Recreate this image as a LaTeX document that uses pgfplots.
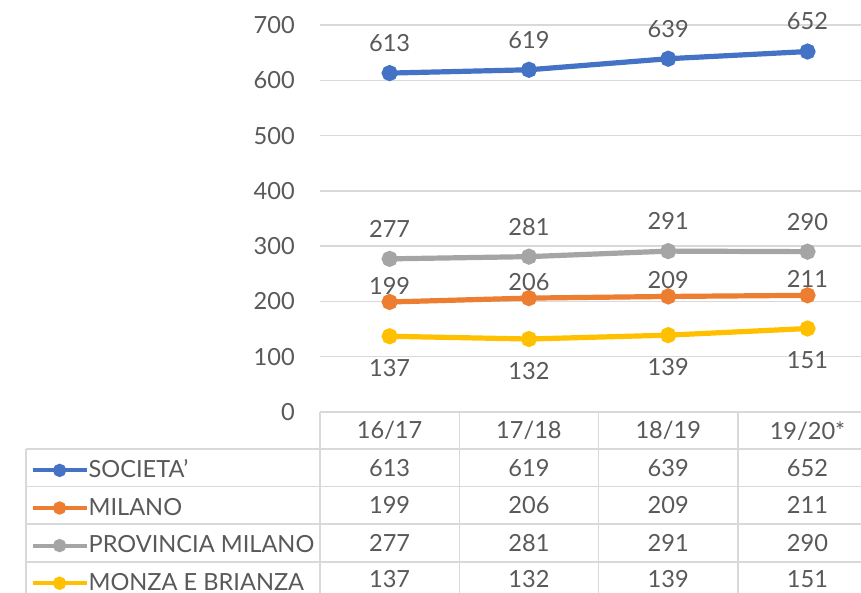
\documentclass[border=0pt]{standalone}
\usepackage{fontspec}
\setmainfont{Lato}
\usepackage{pgfplots}
\pgfplotsset{compat=1.18}
\definecolor{sblue}{HTML}{4472C4}
\definecolor{sorange}{HTML}{ED7D31}
\definecolor{sgray}{HTML}{A5A5A5}
\definecolor{syellow}{HTML}{FFC000}
\definecolor{txt}{HTML}{595959}
\definecolor{gridc}{HTML}{D9D9D9}
\newcommand{\cf}{\fontsize{11.8}{14}\selectfont}

\begin{document}
\begin{tikzpicture}
\useasboundingbox (-160pt,-90.5pt) rectangle (270.5pt,206pt);
\clip (-160pt,-90.5pt) rectangle (270.5pt,206pt);
\begin{axis}[
  scale only axis, width=270.5pt, height=193.5pt,
  xmin=0, xmax=3.884, ymin=0, ymax=700,
  ytick={0,100,...,700}, xtick=\empty,
  axis line style={draw=none},
  major tick length=0pt,
  ymajorgrids, grid style={gridc, line width=0.75pt},
  clip=false,
  every tick label/.append style={font=\cf, text=txt},
  /pgf/number format/assume math mode=true,
  yticklabel style={xshift=-8pt},
  line width=2.6pt,
  every mark/.append style={solid},
  mark size=2.7pt,
  nodes near coords,
  every node near coord/.append style={font=\cf, text=txt, anchor=center},
  legend style={at={(-0.5397,-0.0956)}, anchor=north west, draw=none, fill=none,
    font=\cf, text=txt, row sep=0pt, inner sep=0pt,
    nodes={minimum height=18.8pt, inner sep=0pt},
    /tikz/every even column/.append style={column sep=2pt}},
  legend cell align=left,
  legend image code/.code={
    \draw[mark repeat=2, mark phase=2, line width=2pt, mark size=2.3pt, #1]
      plot coordinates {(0pt,0pt) (13.5pt,0pt) (27pt,0pt)};},
]
\addplot[sblue, mark=*, every node near coord/.append style={yshift=15pt}]
  coordinates {(0.5,613) (1.5,619) (2.5,639) (3.5,652)};
\addlegendentry{SOCIETA'}
\addplot[sorange, mark=*, every node near coord/.append style={yshift=8pt}]
  coordinates {(0.5,199) (1.5,206) (2.5,209) (3.5,211)};
\addlegendentry{MILANO}
\addplot[sgray, mark=*, every node near coord/.append style={yshift=15pt}]
  coordinates {(0.5,277) (1.5,281) (2.5,291) (3.5,290)};
\addlegendentry{PROVINCIA MILANO}
\addplot[syellow, mark=*, every node near coord/.append style={yshift=-16pt}]
  coordinates {(0.5,137) (1.5,132) (2.5,139) (3.5,151)};
\addlegendentry{MONZA E BRIANZA}

% data table
\draw[gridc, line width=0.75pt]
  (axis cs:0,0) -- (axis cs:0,-345)
  (axis cs:1,0) -- (axis cs:1,-345)
  (axis cs:2,0) -- (axis cs:2,-345)
  (axis cs:3,0) -- (axis cs:3,-345)
  (axis cs:-2.11,-67) -- (axis cs:-2.11,-345)
  (axis cs:-2.11,-67) -- (axis cs:3.9,-67)
  (axis cs:-2.11,-135) -- (axis cs:3.9,-135)
  (axis cs:-2.11,-203) -- (axis cs:3.9,-203)
  (axis cs:-2.11,-271) -- (axis cs:3.9,-271);
\begin{scope}[every node/.style={font=\cf, text=txt}]
\node at (axis cs:0.5,-34) {16/17};
\node at (axis cs:1.5,-34) {17/18};
\node at (axis cs:2.5,-34) {18/19};
\node at (axis cs:3.5,-34) {19/20*};
\node at (axis cs:0.5,-101) {613};
\node at (axis cs:1.5,-101) {619};
\node at (axis cs:2.5,-101) {639};
\node at (axis cs:3.5,-101) {652};
\node at (axis cs:0.5,-169) {199};
\node at (axis cs:1.5,-169) {206};
\node at (axis cs:2.5,-169) {209};
\node at (axis cs:3.5,-169) {211};
\node at (axis cs:0.5,-237) {277};
\node at (axis cs:1.5,-237) {281};
\node at (axis cs:2.5,-237) {291};
\node at (axis cs:3.5,-237) {290};
\node at (axis cs:0.5,-302) {137};
\node at (axis cs:1.5,-302) {132};
\node at (axis cs:2.5,-302) {139};
\node at (axis cs:3.5,-302) {151};
\end{scope}
\end{axis}
\end{tikzpicture}
\end{document}
